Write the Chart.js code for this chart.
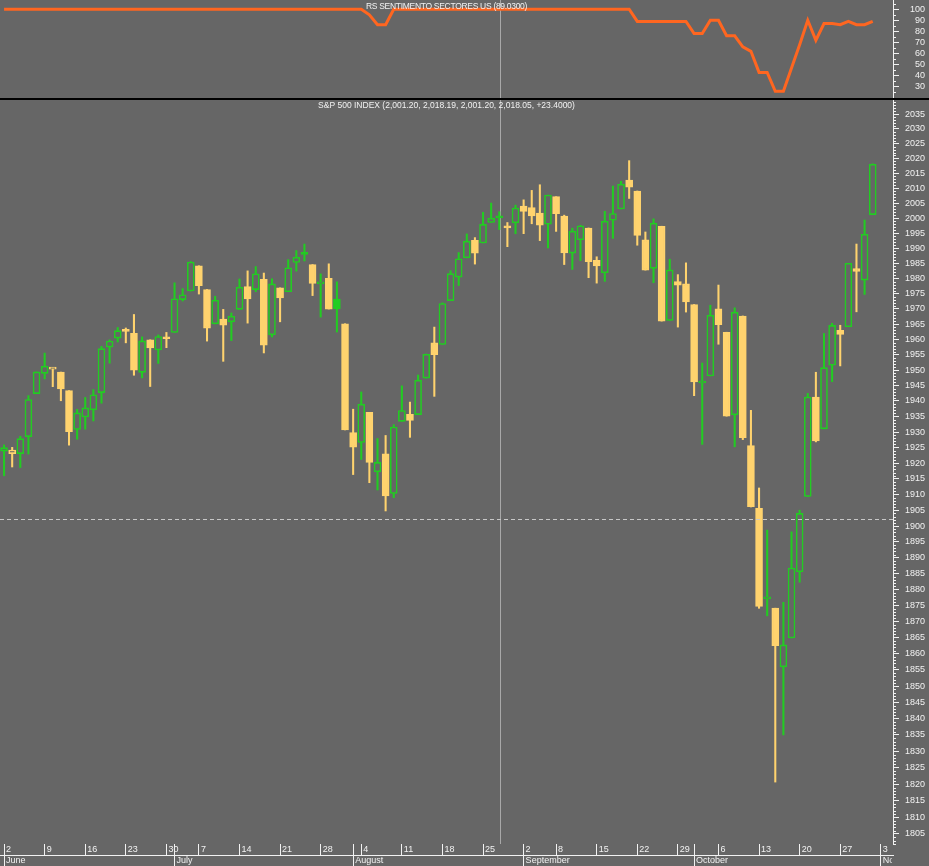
<!DOCTYPE html>
<html>
<head>
<meta charset="utf-8">
<script src="https://cdn.jsdelivr.net/npm/chart.js@4.4.1/dist/chart.umd.min.js"></script>
<style>
  html, body { margin: 0; padding: 0; background: #666666; }
  #quadro { position: relative; width: 929px; height: 866px; overflow: hidden; background: #666666; }
  #caixaRS { position: absolute; left: 0; top: 0; width: 929px; height: 98px; }
  #divisoria { position: absolute; left: 0; top: 98px; width: 929px; height: 2px; background: #000; }
  #caixaSP { position: absolute; left: 0; top: 100px; width: 929px; height: 766px; }
</style>
</head>
<body>
<div id="quadro">
  <div id="caixaRS"><canvas id="graficoRS"></canvas></div>
  <div id="divisoria"></div>
  <div id="caixaSP"><canvas id="graficoSP"></canvas></div>
</div>
<script>
// =====================================================
// DADOS (S&P 500 diario, junho a outubro 2014)
// =====================================================
const datas = [
  "2014-06-02","2014-06-03","2014-06-04","2014-06-05","2014-06-06","2014-06-09","2014-06-10","2014-06-11","2014-06-12","2014-06-13","2014-06-16","2014-06-17","2014-06-18","2014-06-19","2014-06-20","2014-06-23","2014-06-24","2014-06-25","2014-06-26","2014-06-27","2014-06-30",
  "2014-07-01","2014-07-02","2014-07-03","2014-07-07","2014-07-08","2014-07-09","2014-07-10","2014-07-11","2014-07-14","2014-07-15","2014-07-16","2014-07-17","2014-07-18","2014-07-21","2014-07-22","2014-07-23","2014-07-24","2014-07-25","2014-07-28","2014-07-29","2014-07-30","2014-07-31",
  "2014-08-01","2014-08-04","2014-08-05","2014-08-06","2014-08-07","2014-08-08","2014-08-11","2014-08-12","2014-08-13","2014-08-14","2014-08-15","2014-08-18","2014-08-19","2014-08-20","2014-08-21","2014-08-22","2014-08-25","2014-08-26","2014-08-27","2014-08-28","2014-08-29",
  "2014-09-02","2014-09-03","2014-09-04","2014-09-05","2014-09-08","2014-09-09","2014-09-10","2014-09-11","2014-09-12","2014-09-15","2014-09-16","2014-09-17","2014-09-18","2014-09-19","2014-09-22","2014-09-23","2014-09-24","2014-09-25","2014-09-26","2014-09-29","2014-09-30",
  "2014-10-01","2014-10-02","2014-10-03","2014-10-06","2014-10-07","2014-10-08","2014-10-09","2014-10-10","2014-10-13","2014-10-14","2014-10-15","2014-10-16","2014-10-17","2014-10-20","2014-10-21","2014-10-22","2014-10-23","2014-10-24","2014-10-27","2014-10-28","2014-10-29","2014-10-30","2014-10-31",
  "2014-11-03","2014-11-04"
];

const aberturas = [
  1923.87,1923.07,1923.06,1928.52,1942.41,1948.97,1950.34,1949.37,1943.35,1930.80,1934.84,1937.15,1942.73,1957.50,1960.45,1962.92,1961.97,1949.27,1959.89,1956.56,1960.79,
  1962.29,1973.06,1975.88,1984.22,1976.39,1965.10,1966.67,1965.76,1969.86,1977.36,1976.35,1979.75,1961.54,1976.93,1975.65,1985.32,1988.07,1984.60,1978.25,1980.03,1973.21,1965.14,
  1929.80,1926.62,1936.34,1917.29,1923.03,1910.35,1933.43,1935.73,1935.60,1947.41,1958.87,1958.36,1972.73,1980.46,1986.82,1992.60,1991.74,1998.59,2000.54,1997.42,1998.45,
  2004.07,2003.57,2001.67,1998.00,2007.17,2000.73,1988.41,1992.85,1996.74,1986.04,1981.93,1999.30,2003.07,2012.74,2009.08,1992.78,1983.34,1997.32,1966.22,1978.96,1978.21,
  1971.44,1945.83,1948.12,1970.01,1962.36,1935.55,1967.68,1925.63,1905.65,1877.11,1874.18,1855.95,1864.91,1885.62,1909.38,1941.29,1931.02,1951.59,1962.97,1964.14,1983.29,1979.49,2001.20
];
const maximos = [
  1925.88,1925.07,1928.63,1941.74,1949.44,1955.55,1950.86,1949.37,1943.35,1937.30,1941.15,1943.69,1957.74,1959.87,1963.91,1963.74,1968.17,1960.83,1959.89,1961.47,1962.29,
  1978.58,1976.67,1985.59,1984.22,1976.39,1974.15,1969.84,1968.67,1979.85,1982.52,1983.94,1981.80,1979.91,1976.93,1986.24,1989.23,1991.39,1984.60,1981.52,1984.85,1978.90,1965.14,
  1937.35,1942.92,1936.34,1927.91,1928.89,1932.38,1944.90,1939.65,1948.41,1955.23,1964.04,1971.99,1982.57,1988.57,1994.76,1993.54,2001.95,2005.04,2002.14,1998.55,2004.36,
  2006.12,2009.28,2011.17,2007.71,2007.17,2001.01,1996.66,1997.65,1996.74,1987.18,2002.28,2010.74,2012.34,2019.26,2009.08,1995.41,1999.79,1997.32,1986.37,1981.28,1985.17,
  1971.44,1952.32,1971.19,1977.84,1962.36,1970.36,1967.68,1936.98,1912.09,1898.71,1874.18,1876.01,1898.16,1905.03,1942.45,1949.31,1961.95,1965.27,1964.64,1985.05,1991.40,1999.40,2018.19
];
const minimos = [
  1915.98,1918.79,1918.60,1922.93,1942.41,1947.16,1944.64,1940.08,1925.78,1927.69,1930.91,1933.55,1939.29,1952.26,1959.17,1958.89,1948.34,1947.49,1944.69,1952.18,1957.32,
  1962.29,1972.58,1975.88,1974.88,1959.46,1965.10,1952.86,1959.63,1969.86,1965.34,1975.67,1955.59,1960.82,1965.77,1975.65,1982.44,1985.79,1974.37,1967.31,1969.95,1962.42,1930.67,
  1916.37,1921.20,1913.77,1911.45,1904.78,1909.01,1933.43,1928.29,1935.60,1947.41,1941.50,1958.36,1972.73,1977.68,1986.82,1984.76,1991.74,1998.59,1996.20,1990.52,1994.85,
  1994.85,1998.14,1992.54,1990.10,1995.60,1984.61,1982.99,1985.93,1980.26,1978.48,1979.06,1993.29,2003.07,2006.59,1991.01,1982.77,1978.63,1965.99,1966.22,1964.04,1968.96,
  1941.72,1926.03,1948.12,1958.43,1935.10,1925.25,1927.56,1906.05,1874.14,1871.79,1820.66,1835.02,1864.91,1882.30,1909.38,1926.83,1931.02,1946.27,1951.37,1964.14,1969.04,1974.75,2001.20
];
const fechos = [
  1924.97,1924.24,1927.88,1940.46,1949.44,1951.27,1950.79,1943.89,1930.11,1936.16,1937.78,1941.99,1956.98,1959.48,1962.87,1962.61,1949.98,1959.53,1957.22,1960.96,1960.23,
  1973.32,1974.62,1985.44,1977.65,1963.71,1972.83,1964.68,1967.57,1977.10,1973.28,1981.57,1958.12,1978.22,1973.63,1983.53,1987.01,1987.98,1978.34,1978.91,1969.95,1970.07,1930.67,
  1925.15,1938.99,1920.21,1920.24,1909.57,1931.59,1936.92,1933.75,1946.72,1955.18,1955.06,1971.74,1981.60,1986.51,1992.37,1988.40,1997.92,2000.02,2000.12,1996.74,2003.37,
  2002.28,2000.72,1997.65,2007.71,2001.54,1988.44,1995.69,1997.45,1985.54,1984.13,1998.98,2001.57,2011.36,2010.40,1994.29,1982.77,1998.30,1965.99,1982.85,1977.80,1972.29,
  1946.16,1946.17,1967.90,1964.82,1935.10,1968.89,1928.21,1906.13,1874.74,1877.70,1862.49,1862.76,1886.76,1904.01,1941.28,1927.11,1950.82,1964.58,1961.63,1985.05,1982.30,1994.65,2018.05
];
const fechoAnterior = 1923.57; // fecho de 30 de maio

// RS sentimento sectores (painel de cima)
const sentimento = [
  100,100,100,100,100,100,100,100,100,100,100,100,100,100,100,100,100,100,100,100,100,
  100,100,100,100,100,100,100,100,100,100,100,100,100,100,100,100,100,100,100,100,100,100,
  100,100,95,86,86,100,100,100,100,100,100,100,100,100,100,100,100,100,100,100,100,
  100,100,100,100,100,100,100,100,100,100,100,100,100,100,89,89,89,89,89,89,89,
  78,78,90,90,76,76,66,62,43,43,26,26,47,68,90,72,87,87,86,89,86,86,89.03
];

const ticksPreco = [1805,1810,1815,1820,1825,1830,1835,1840,1845,1850,1855,1860,1865,1870,1875,1880,1885,1890,1895,1900,
  1905,1910,1915,1920,1925,1930,1935,1940,1945,1950,1955,1960,1965,1970,1975,1980,1985,1990,1995,2000,2005,2010,2015,2020,2025,2030,2035];
const ticksSentimento = [30, 40, 50, 60, 70, 80, 90, 100];
const meses = ["January","February","March","April","May","June","July","August","September","October","November","December"];

const tituloSP = "S&P 500 INDEX (2,001.20, 2,018.19, 2,001.20, 2,018.05, +23.4000)";
const tituloRS = "RS SENTIMENTO SECTORES US (89.0300)";

// cursor (cruz) que aparece no grafico
const cursorIndice = 61.2;
const cursorPreco = 1902.1;

// =====================================================
// ESTILO
// =====================================================
const FUNDO = "#666666";
const VERDE = "#22cc22";
const AMARELO = "#ffd36e";
const LARANJA = "#ff6620";
const TEXTO = "#f2f2f2";
const FONTE = '"Liberation Sans", Arial, sans-serif';
const NADA = "rgba(0,0,0,0)";

// =====================================================
// MARCAS DO EIXO X (semanas / meses)
// =====================================================
const diaSemana = datas.map(d => new Date(d + "T00:00:00Z").getUTCDay());
const inicioSemana = datas.map((d, i) => i === 0 || diaSemana[i] < diaSemana[i - 1]);
const inicioMes = datas.map((d, i) => i === 0 || d.slice(5, 7) !== datas[i - 1].slice(5, 7));

// cor de cada vela: verde se fechou acima do fecho anterior, amarelo se abaixo
const cores = fechos.map((c, i) => c >= (i === 0 ? fechoAnterior : fechos[i - 1]) ? VERDE : AMARELO);
// oca se fechou acima da abertura
const ocas = fechos.map((c, i) => c >= aberturas[i]);

// =====================================================
// PLUGINS
// =====================================================
const pluginTitulo = {
  id: "titulo",
  afterDraw(chart, args, opts) {
    const ctx = chart.ctx;
    const a = chart.chartArea;
    ctx.save();
    ctx.font = opts.tamanho + "px " + FONTE;
    ctx.fillStyle = TEXTO;
    ctx.textAlign = "center";
    ctx.textBaseline = "middle";
    if (opts.espaco) ctx.letterSpacing = opts.espaco;
    ctx.fillText(opts.texto, (a.left + a.right) / 2, a.top + opts.y);
    ctx.restore();
  }
};

const pluginTracos = {
  id: "tracos",
  afterDraw(chart, args, opts) {
    const s = chart.scales.y;
    const ctx = chart.ctx;
    ctx.save();
    ctx.strokeStyle = TEXTO;
    ctx.lineWidth = 1;
    ctx.beginPath();
    for (let v = Math.ceil(s.min / opts.passo) * opts.passo; v <= s.max; v += opts.passo) {
      if (v % opts.maior === 0) continue;
      const y = Math.round(s.getPixelForValue(v)) + 0.5;
      ctx.moveTo(s.left, y);
      ctx.lineTo(s.left + 3, y);
    }
    ctx.stroke();
    ctx.restore();
  }
};

const pluginCursor = {
  id: "cursor",
  beforeDatasetsDraw(chart) {
    const ctx = chart.ctx;
    const a = chart.chartArea;
    const x = Math.round(chart.scales.x.getPixelForValue(cursorIndice)) - 0.5;
    ctx.save();
    ctx.strokeStyle = "#a8a8a8";
    ctx.lineWidth = 1;
    ctx.beginPath();
    ctx.moveTo(x, a.top);
    ctx.lineTo(x, a.bottom);
    ctx.stroke();
    ctx.restore();
  },
  afterDatasetsDraw(chart, args, opts) {
    if (!opts.horizontal) return;
    const ctx = chart.ctx;
    const a = chart.chartArea;
    const y = Math.round(chart.scales.y.getPixelForValue(cursorPreco)) + 0.5;
    ctx.save();
    ctx.strokeStyle = "#c8c8c8";
    ctx.lineWidth = 1;
    ctx.setLineDash([4, 3]);
    ctx.beginPath();
    ctx.moveTo(a.left, y);
    ctx.lineTo(a.right, y);
    ctx.stroke();
    ctx.restore();
  }
};

// o nome do ultimo mes fica cortado na borda do grafico
const pluginCorte = {
  id: "corte",
  afterDraw(chart) {
    const x2 = chart.scales.x2;
    chart.ctx.save();
    chart.ctx.fillStyle = FUNDO;
    chart.ctx.fillRect(chart.chartArea.right - 1, x2.top + 1, chart.width, x2.bottom - x2.top);
    chart.ctx.restore();
  }
};

function eixoDireito(s) {
  s.width = 36;
  s.paddingTop = 0;
  s.paddingBottom = 0;
}
function eixoDireitoRS(s) {
  s.width = 32;
  s.paddingTop = 0;
  s.paddingBottom = 0;
}
function eixoBaixo(s) {
  s.height = 11;
  s.paddingLeft = 0;
  s.paddingRight = 0;
}

// =====================================================
// PAINEL DE CIMA: RS SENTIMENTO
// =====================================================
new Chart(document.getElementById("graficoRS"), {
  type: "line",
  data: {
    labels: datas,
    datasets: [{
      data: sentimento,
      borderColor: LARANJA,
      borderWidth: 3,
      pointRadius: 0,
      tension: 0
    }]
  },
  options: {
    responsive: true,
    maintainAspectRatio: false,
    animation: false,
    layout: { padding: { left: 0, top: 0, bottom: 0, right: 4 } },
    plugins: {
      legend: { display: false },
      tooltip: { enabled: false },
      titulo: { texto: tituloRS, tamanho: 8.5, y: 6.5, espaco: "-0.3px" },
      tracos: { passo: 5, maior: 10 },
      cursor: { horizontal: false }
    },
    scales: {
      x: { type: "category", offset: true, display: false },
      y: {
        position: "right",
        min: 19.9,
        max: 108.3,
        afterBuildTicks: s => { s.ticks = ticksSentimento.map(v => ({ value: v })); },
        afterFit: eixoDireitoRS,
        grid: { drawOnChartArea: false, tickLength: 6, color: TEXTO },
        border: { display: true, color: TEXTO },
        ticks: { autoSkip: false, color: TEXTO, font: { family: FONTE, size: 9 }, padding: 7, crossAlign: "far" }
      }
    }
  },
  plugins: [pluginCursor, pluginTracos, pluginTitulo]
});

// =====================================================
// PAINEL PRINCIPAL: VELAS DO S&P 500 (escala logaritmica)
// =====================================================
new Chart(document.getElementById("graficoSP"), {
  type: "bar",
  data: {
    labels: datas,
    datasets: [
      {
        label: "corpo",
        data: aberturas.map((o, i) => [o, fechos[i]]),
        backgroundColor: cores.map((c, i) => ocas[i] ? FUNDO : c),
        borderColor: cores,
        borderWidth: 1.6,
        borderSkipped: false,
        barThickness: 7,
        minBarLength: 2,
        grouped: false,
        order: 0
      },
      {
        label: "sombra",
        data: minimos.map((l, i) => [l, maximos[i]]),
        backgroundColor: cores,
        borderWidth: 0,
        barThickness: 1.4,
        grouped: false,
        order: 1
      }
    ]
  },
  options: {
    responsive: true,
    maintainAspectRatio: false,
    animation: false,
    layout: { padding: 0 },
    plugins: {
      legend: { display: false },
      tooltip: { enabled: false },
      titulo: { texto: tituloSP, tamanho: 8.5, y: 5.5 },
      tracos: { passo: 1, maior: 5 },
      cursor: { horizontal: true }
    },
    scales: {
      x: {
        type: "category",
        offset: true,
        weight: 0,
        afterFit: eixoBaixo,
        grid: {
          drawOnChartArea: false,
          offset: false,
          tickLength: 11,
          color: c => (inicioSemana[c.index] || inicioMes[c.index]) ? TEXTO : NADA,
          tickColor: c => (inicioSemana[c.index] || inicioMes[c.index]) ? TEXTO : NADA
        },
        border: { display: false },
        ticks: {
          autoSkip: false, maxRotation: 0, minRotation: 0,
          align: "start", labelOffset: 2, padding: -11,
          color: TEXTO, font: { family: FONTE, size: 9 },
          callback: (v, i) => inicioSemana[i] ? String(Number(datas[i].slice(8, 10))) : ""
        }
      },
      x2: {
        type: "category",
        position: "bottom",
        offset: true,
        weight: 1,
        afterFit: eixoBaixo,
        grid: {
          drawOnChartArea: false,
          offset: false,
          tickLength: 11,
          color: c => inicioMes[c.index] ? TEXTO : NADA,
          tickColor: c => inicioMes[c.index] ? TEXTO : NADA
        },
        border: { display: true, color: TEXTO },
        ticks: {
          autoSkip: false, maxRotation: 0, minRotation: 0,
          align: "start", labelOffset: 2, padding: -11,
          color: TEXTO, font: { family: FONTE, size: 9 },
          callback: (v, i) => inicioMes[i] ? meses[Number(datas[i].slice(5, 7)) - 1] : ""
        }
      },
      y: {
        type: "logarithmic",
        position: "right",
        min: 1801.97,
        max: 2039.77,
        afterBuildTicks: s => { s.ticks = ticksPreco.map(v => ({ value: v })); },
        afterFit: eixoDireito,
        grid: { drawOnChartArea: false, tickLength: 6, color: TEXTO },
        border: { display: true, color: TEXTO },
        ticks: { autoSkip: false, color: TEXTO, font: { family: FONTE, size: 9 }, padding: 6, callback: v => String(v) }
      }
    }
  },
  plugins: [pluginCursor, pluginTracos, pluginTitulo, pluginCorte]
});
</script>
</body>
</html>
